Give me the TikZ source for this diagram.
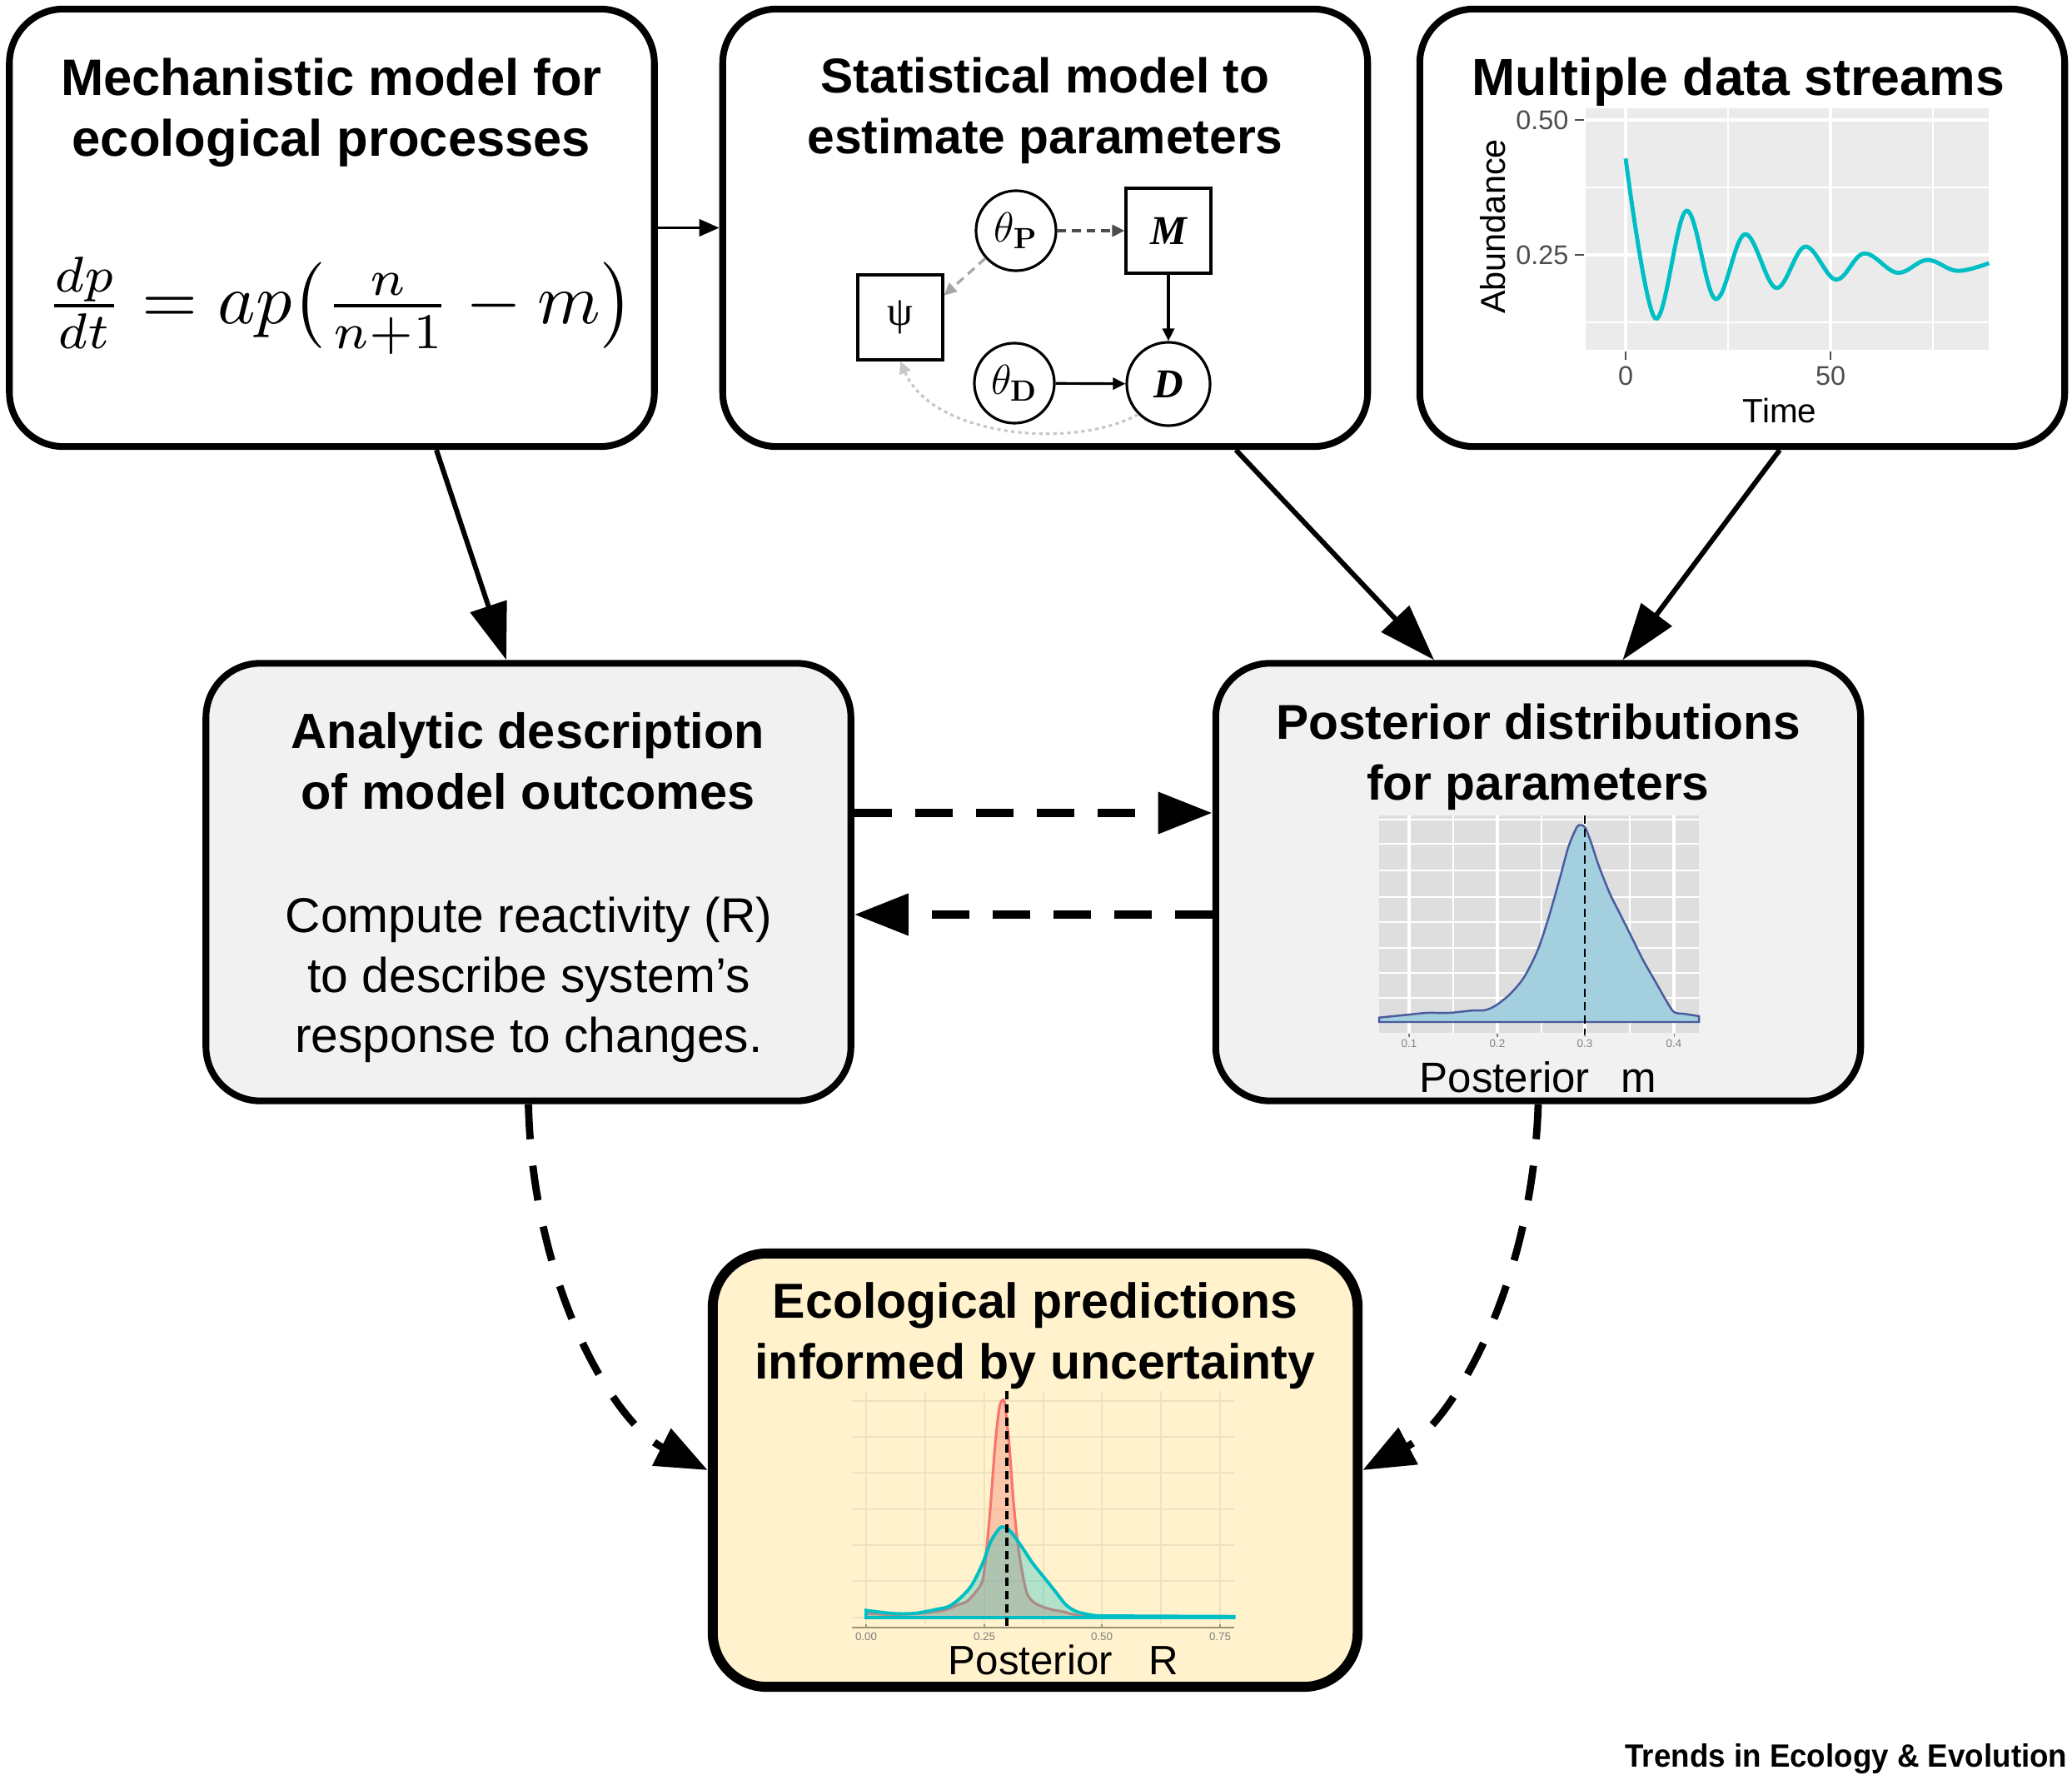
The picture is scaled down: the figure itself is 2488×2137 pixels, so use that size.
\documentclass[tikz,border=0pt]{standalone}
\usepackage{amsmath}
\usepackage{graphicx}
\usepackage[no-math]{fontspec}
\setmainfont{Liberation Sans}
\newfontfamily\serifgr{Liberation Serif}
\usetikzlibrary{arrows.meta,calc}

\definecolor{boxgray}{HTML}{F1F1F1}
\definecolor{boxyel}{HTML}{FFF2CC}
\definecolor{ggbg}{HTML}{EBEBEB}
\definecolor{ggteal}{HTML}{00BFC4}
\definecolor{ggred}{HTML}{F8766D}
\definecolor{mbg}{HTML}{DEDEDE}
\definecolor{mfill}{HTML}{A3CFDF}
\definecolor{mline}{HTML}{4A5A9E}
\definecolor{rgrid}{HTML}{EEE2BF}
\definecolor{raxis}{HTML}{9C9478}
\definecolor{tickgray}{HTML}{4D4D4D}

\begin{document}
\begin{tikzpicture}[x=0.01cm,y=-0.01cm,
  panel/.style={draw=black, line width=2.3pt, rounded corners=0.65cm,
    minimum width=7.74cm, minimum height=5.25cm, inner sep=0pt},
  ttl/.style={font=\fontsize{#1}{20.8}\selectfont\bfseries, align=center, inner sep=0pt},
  ttl/.default=17,
  body/.style={font=\fontsize{16.7}{20.5}\selectfont, align=center, inner sep=0pt},
  bigarrow/.style={line width=1.7pt, -{Triangle[length=0.68cm,width=0.45cm]}},
  dasharrow/.style={line width=2.85pt, dash pattern=on 0.45cm off 0.28cm,
    -{Triangle[length=0.65cm,width=0.48cm]}},
  curvearrow/.style={line width=2.5pt, dash pattern=on 0.42cm off 0.32cm,
    -{Triangle[length=0.62cm,width=0.48cm]}},
  gnode/.style={draw, line width=0.9pt, circle, minimum size=0.96cm, inner sep=0pt,
    font=\fontsize{14}{16}\selectfont},
  gbox/.style={draw, line width=0.9pt, minimum size=1.02cm, inner sep=0pt,
    font=\fontsize{14}{16}\selectfont},
  garrow/.style={line width=0.9pt, -{Triangle[length=0.15cm,width=0.14cm]}},
  ticklab/.style={font=\fontsize{9.2}{10}\selectfont, text=tickgray, inner sep=0pt},
  tinylab/.style={font=\fontsize{3.8}{4.5}\selectfont, text=gray, inner sep=0pt},
]
\useasboundingbox (0,0) rectangle (2488,2137);
\fill[white] (0,0) rectangle (2488,2137);

% ---------- boxes ----------
\node[panel, fill=white] (b1) at (398.5,273.5) {};
\node[panel, fill=white] (b2) at (1255,273.5) {};
\node[panel, fill=white] (b3) at (2092,273.5) {};
\node[panel, fill=boxgray] (b4) at (634.5,1059) {};
\node[panel, fill=boxgray] (b5) at (1847,1059) {};
\node[panel, fill=boxyel, line width=3.4pt, minimum width=7.74cm, minimum height=5.2cm] (b6) at (1243,1765) {};

% ---------- titles ----------
\node[ttl=17.5] (t1) at (398,135) {Mechanistic model for\\ecological processes};
\node[ttl=16.7] (t2) at (1255,133) {Statistical model to\\estimate parameters};
\node[ttl=17.8] (t3) at (2087,98) {Multiple data streams};
\node[ttl=16.9] (t4) at (634,914) {Analytic description\\of model outcomes};
\node[body] (t4b) at (635,1176) {Compute reactivity (R)\\to describe system’s\\response to changes.};
\node[ttl=16.7] (t5) at (1847,909) {Posterior distributions\\for parameters};
\node[ttl=16.8] (t6) at (1243,1604) {Ecological predictions\\informed by uncertainty};

% ---------- equation ----------
\node[inner sep=0pt, font=\fontsize{10}{12}\selectfont] (eq) at (408,367)
  {\scalebox{2.45}{$\frac{dp}{dt} = ap\bigl(\frac{n}{n+1} - m\bigr)$}};

% ---------- statistical model graph ----------
\node[gnode] (thp) at (1220,277) {$\theta_{\mathbf{P}}$};
\node[gbox] (M) at (1403,277) {\serifgr\bfseries\itshape M};
\node[gbox] (psi) at (1081,381) {\serifgr ψ};
\node[gnode] (thd) at (1218,460) {$\theta_{\mathbf{D}}$};
\node[gnode, minimum size=1.0cm] (D) at (1403,461) {\serifgr\bfseries\itshape D};
\draw[garrow, draw=black!70, dash pattern=on 3pt off 2pt] (thp) -- (M);
\draw[garrow] (M) -- (D);
\draw[garrow] (thd) -- (D);
\draw[garrow, draw=black!35, dash pattern=on 3pt off 2pt] (thp) -- ($(psi.north east)!0.25!(psi.south east)$);
\draw[garrow, draw=black!22, dash pattern=on 1.2pt off 1.2pt] (D.south west) .. controls (1290,540) and (1120,525) .. (psi.south);

% ---------- data stream plot ----------
\fill[ggbg] (1904,130) rectangle (2388,420);
\foreach \y in {225,387} \draw[white, line width=0.6pt] (1904,\y) -- (2388,\y);
\foreach \y in {144,306} \draw[white, line width=1.3pt] (1904,\y) -- (2388,\y);
\foreach \x in {2075,2321} \draw[white, line width=0.6pt] (\x,130) -- (\x,420);
\foreach \x in {1952,2198} \draw[white, line width=1.3pt] (\x,130) -- (\x,420);
\draw[ggteal, line width=1.4pt] plot[smooth, tension=0.6] coordinates {
  (1952,190.3) (1987.4,382.0) (2024.8,253.1) (2059.7,358.9) (2095.2,281.2)
  (2132.6,345.7) (2167.5,296.1) (2204.4,335.7) (2238.3,304.3) (2278.2,327.5)
  (2314.1,312.0) (2350.0,325.2) (2388.4,315.9)};
\foreach \y in {144,306} \draw[tickgray, line width=0.8pt] (1891,\y) -- (1902,\y);
\foreach \x in {1952,2198} \draw[tickgray, line width=0.8pt] (\x,422) -- (\x,432);
\node[ticklab, anchor=east] (y50) at (1884,144) {0.50};
\node[ticklab, anchor=east] (y25) at (1884,306) {0.25};
\node[ticklab] (x0) at (1952,451) {0};
\node[ticklab] (x50) at (2198,451) {50};
\node[font=\fontsize{11.5}{13}\selectfont, inner sep=0pt] (time) at (2137,493) {Time};
\node[font=\fontsize{11.8}{13}\selectfont, inner sep=0pt, rotate=90] (abund) at (1793,272) {Abundance};

% ---------- posterior m plot ----------
\fill[mbg] (1656,979) rectangle (2040,1240);
\foreach \y in {984,1013,1045,1077,1107,1138,1168,1198} \draw[white, line width=0.6pt] (1656,\y) -- (2040,\y);
\foreach \x in {1745,1851,1957} \draw[white, line width=0.45pt] (\x,979) -- (\x,1240);
\foreach \x in {1692,1798,1903,2010} \draw[white, line width=0.9pt] (\x,979) -- (\x,1240);
\filldraw[fill=mfill, draw=mline, line width=0.7pt] plot[smooth, tension=0.5] coordinates {
  (1656,1221.7) (1690,1218.3) (1713.3,1216) (1740,1216) (1766.7,1213.3) (1783.3,1212.7)
  (1796.7,1206.7) (1813.3,1193.3) (1830,1173.3) (1846.7,1140) (1860,1100) (1873.3,1053.3)
  (1883.3,1016.7) (1893.3,993.3) (1898.3,990.7) (1903.3,993.3) (1910,1010) (1920,1040)
  (1933.3,1073.3) (1946.7,1100) (1960,1126.7) (1973.3,1153.3) (1986.7,1176.7) (2000,1200)
  (2010,1215) (2023.3,1217.3) (2040,1220)} -- (2040,1227) -- (1656,1227) -- cycle;
\draw[black, line width=0.8pt, dash pattern=on 0.1cm off 0.06cm] (1903,979) -- (1903,1243);
\foreach \x in {1692,1798,1903,2010} \draw[gray, line width=0.3pt] (\x,1241) -- (\x,1245);
\foreach \x/\l [count=\i] in {1692/0.1,1798/0.2,1903/0.3,2010/0.4}
  \node[tinylab] (mt\i) at (\x,1253) {\l};
\node[font=\fontsize{14.5}{16}\selectfont, anchor=base, inner sep=0pt] (pm) at (1847,1311) {Posterior\hspace*{0.24cm} m};

% ---------- posterior R plot ----------
\foreach \x in {1040,1111,1182,1253,1323,1394,1465} \draw[rgrid, line width=0.6pt] (\x,1670) -- (\x,1950);
\foreach \y in {1682,1725,1768,1812,1855,1898,1942} \draw[rgrid, line width=0.6pt] (1023,\y) -- (1482,\y);
\fill[ggred, opacity=0.35] plot[smooth, tension=0.5] coordinates {
  (1040,1936.7) (1066.7,1938.3) (1100,1937.3) (1133.3,1933.3) (1150,1926.7) (1160,1923.3)
  (1170,1913.3) (1180,1896.7) (1185,1856.7) (1190,1800) (1195,1733.3) (1200,1690)
  (1204,1680.7) (1206.7,1686.7) (1211.7,1733.3) (1216.7,1800) (1221.7,1850) (1226.7,1883.3)
  (1233.3,1913.3) (1243.3,1925) (1260,1931.7) (1276.7,1935) (1290,1938.3) (1316.7,1940.7)
  (1481.7,1941.7)} -- (1481.7,1942) -- (1040,1942) -- cycle;
\draw[ggred, line width=0.9pt] plot[smooth, tension=0.5] coordinates {
  (1040,1936.7) (1066.7,1938.3) (1100,1937.3) (1133.3,1933.3) (1150,1926.7) (1160,1923.3)
  (1170,1913.3) (1180,1896.7) (1185,1856.7) (1190,1800) (1195,1733.3) (1200,1690)
  (1204,1680.7) (1206.7,1686.7) (1211.7,1733.3) (1216.7,1800) (1221.7,1850) (1226.7,1883.3)
  (1233.3,1913.3) (1243.3,1925) (1260,1931.7) (1276.7,1935) (1290,1938.3) (1316.7,1940.7)
  (1481.7,1941.7)} -- (1040,1942) -- cycle;
\fill[ggteal, opacity=0.3] plot[smooth, tension=0.5] coordinates {
  (1040,1933.3) (1053.3,1935) (1076.7,1937.3) (1100,1936.7) (1126.7,1931.7) (1140,1928.3)
  (1153.3,1918.3) (1166.7,1903.3) (1180,1876.7) (1190,1850) (1200,1835) (1205,1833.3)
  (1213.3,1838.3) (1226.7,1856.7) (1240,1876.7) (1253.3,1893.3) (1266.7,1910) (1280,1926.7)
  (1293.3,1935) (1313.3,1939.3) (1333.3,1940) (1481.7,1940.7)} -- (1481.7,1942) -- (1040,1942) -- cycle;
\draw[ggteal, line width=1.1pt] plot[smooth, tension=0.5] coordinates {
  (1040,1933.3) (1053.3,1935) (1076.7,1937.3) (1100,1936.7) (1126.7,1931.7) (1140,1928.3)
  (1153.3,1918.3) (1166.7,1903.3) (1180,1876.7) (1190,1850) (1200,1835) (1205,1833.3)
  (1213.3,1838.3) (1226.7,1856.7) (1240,1876.7) (1253.3,1893.3) (1266.7,1910) (1280,1926.7)
  (1293.3,1935) (1313.3,1939.3) (1333.3,1940) (1481.7,1940.7)} -- (1481.7,1942) -- (1040,1942) -- cycle;
\draw[raxis, line width=0.6pt] (1023,1954) -- (1482,1954);
\foreach \x in {1040,1182,1323,1465} \draw[raxis, line width=0.5pt] (\x,1950) -- (\x,1954);
\foreach \x/\l [count=\i] in {1040/0.00,1182/0.25,1323/0.50,1465/0.75}
  \node[tinylab] (rt\i) at (\x,1965) {\l};
\draw[black, line width=1pt, dash pattern=on 0.1cm off 0.06cm] (1209,1670) -- (1209,1955);
\node[font=\fontsize{14}{16}\selectfont, anchor=base, inner sep=0pt] (pr) at (1277,2010) {Posterior\hspace*{0.3cm} R};

% ---------- connectors ----------
\draw[line width=1.1pt, -{Triangle[length=0.24cm,width=0.2cm]}] (b1.east) -- (b2.west);
\draw[bigarrow] ($(b1.south)+(125.5,0)$) -- ($(b4.north)+(-26.5,0)$);
\draw[bigarrow] ($(b2.south)+(229,0)$) -- ($(b5.north)+(-125,0)$);
\draw[bigarrow] ($(b3.south)+(45,0)$) -- ($(b5.north)+(101.5,0)$);
\draw[dasharrow] ($(b4.east)+(0,-83)$) -- ($(b5.west)+(0,-83)$);
\draw[dasharrow] ($(b5.west)+(0,39)$) -- ($(b4.east)+(0,39)$);
\draw[curvearrow] (b4.south) .. controls (640,1550) and (740,1710) .. (b6.west);
\draw[curvearrow] (b5.south) .. controls (1840,1550) and (1740,1710) .. (b6.east);

% ---------- footer ----------
\node[anchor=base east, font=\fontsize{11}{13}\selectfont\bfseries, inner sep=0pt] (foot) at (2483,2121)
  {\scalebox{0.95}[1]{Trends in Ecology \& Evolution}};
\end{tikzpicture}
\end{document}
